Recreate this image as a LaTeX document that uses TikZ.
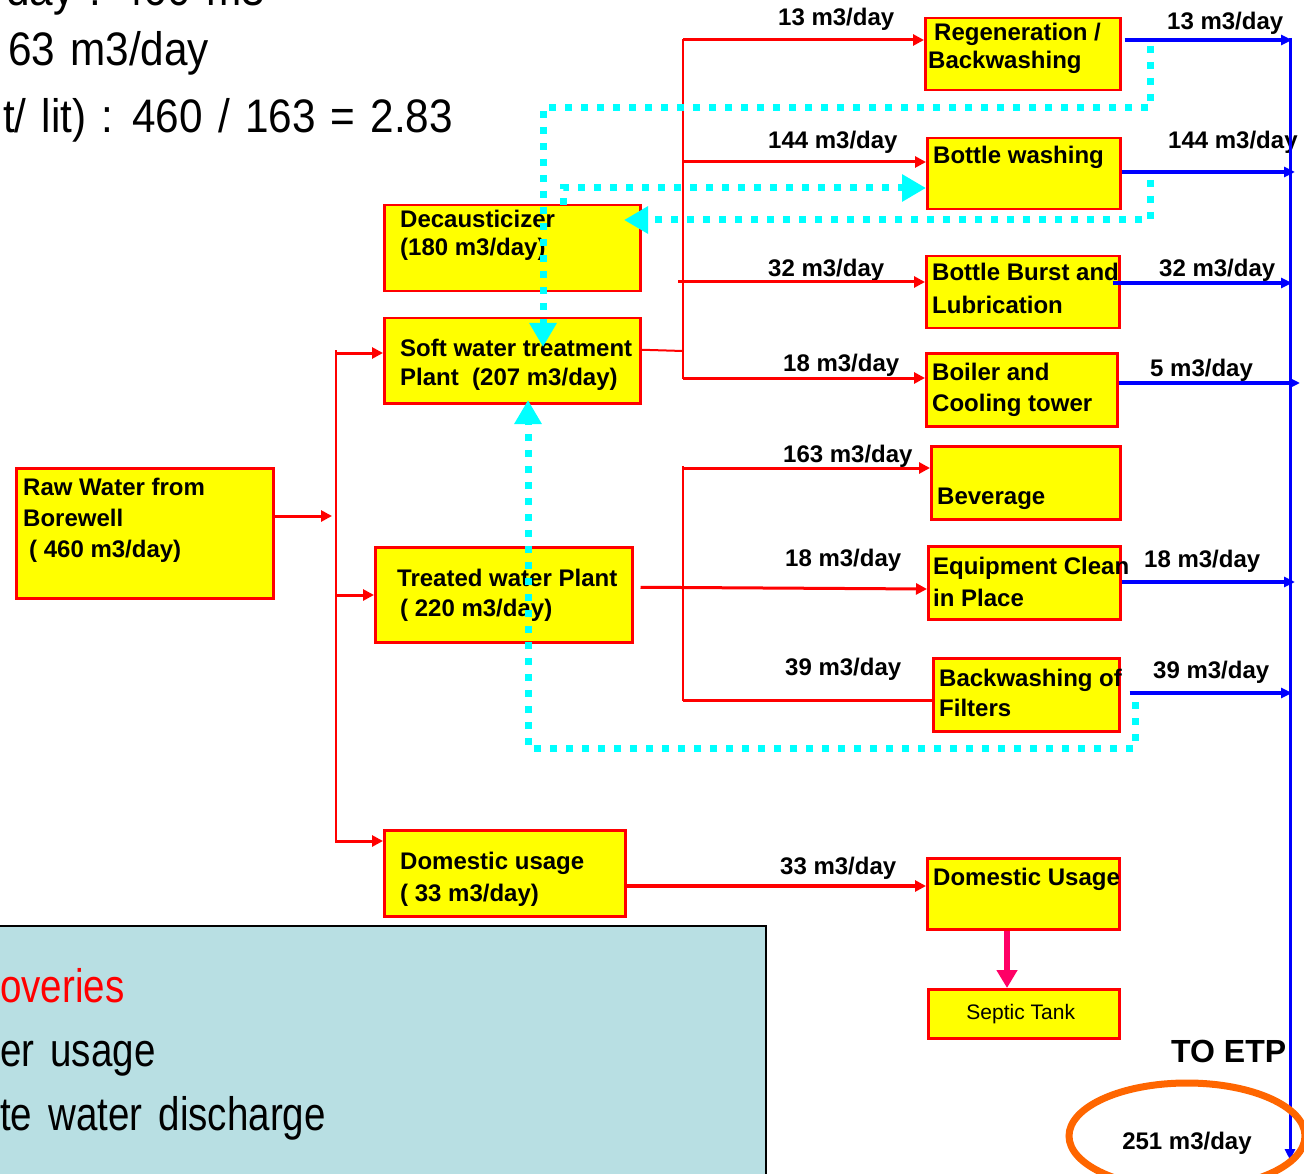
\documentclass[tikz,border=0pt]{standalone}
\usepackage{fontspec}
\setmainfont{Liberation Sans}
\newfontfamily\slidefont[FakeStretch=0.9, WordSpace=1.29]{Liberation Sans}
\newfontfamily\notefont[FakeStretch=0.82, WordSpace=1.5]{Liberation Sans}
\usetikzlibrary{arrows.meta,calc,shapes.geometric}
\definecolor{boxyellow}{HTML}{FFFF00}
\definecolor{flowred}{HTML}{FF0000}
\definecolor{flowblue}{HTML}{0000FF}
\definecolor{recycle}{HTML}{00FFFF}
\definecolor{septicred}{HTML}{FF0066}
\definecolor{etporange}{HTML}{FF6600}
\definecolor{notebg}{HTML}{B8DFE3}
\begin{document}
\begin{tikzpicture}[x=1pt,y=-1pt,
  unit/.style={draw=flowred, fill=boxyellow, line width=2.5pt, rectangle, inner sep=0pt, anchor=north west},
  btxt/.style={anchor=base west, inner sep=0pt, font=\fontsize{24}{28}\selectfont\bfseries},
  flow/.style={anchor=base west, inner sep=0pt, font=\fontsize{24}{28}\selectfont\bfseries},
  feed/.style={draw=flowred, line width=3pt, -{Triangle[length=11pt,width=11pt]}},
  bus/.style={draw=flowred, line width=2pt},
  drain/.style={draw=flowblue, line width=3.5pt, -{Triangle[length=11pt,width=10pt]}},
  reuse/.style={draw=recycle, line width=7pt, dash pattern=on 7pt off 9pt, -{Triangle[length=24pt,width=26pt]}},
  slide/.style={anchor=base west, inner sep=0pt, font=\slidefont\fontsize{47}{50}\selectfont},
  note/.style={anchor=base west, inner sep=0pt, font=\notefont\fontsize{47}{50}\selectfont},
]
\useasboundingbox (0,0) rectangle (1304,1174);
\clip (0,0) rectangle (1304,1174);

% ---- summary lines, upper left ----
\node[slide] (sumA) at (6,6) {day : 460 m3};
\node[slide] (sumB) at (8,66) {63 m3/day};
\node[slide] (sumC) at (3,133) {t/ lit) : 460 / 163 = 2.83};

% ---- process units ----
\node[unit, minimum width=195pt, minimum height=72pt] (regen) at (924,17) {};
\node[unit, minimum width=193pt, minimum height=71pt] (bw) at (926,137) {};
\node[unit, minimum width=256pt, minimum height=86pt] (deca) at (383,204) {};
\node[unit, minimum width=193pt, minimum height=72pt] (burst) at (925,255) {};
\node[unit, minimum width=256pt, minimum height=85pt] (soft) at (383,317) {};
\node[unit, minimum width=191pt, minimum height=73pt] (boiler) at (925,352) {};
\node[unit, minimum width=189pt, minimum height=73pt] (bev) at (930,445) {};
\node[unit, minimum width=257pt, minimum height=130pt] (raw) at (15,467) {};
\node[unit, minimum width=257pt, minimum height=95pt] (treat) at (374,546) {};
\node[unit, minimum width=192pt, minimum height=73pt] (cip) at (927,545) {};
\node[unit, minimum width=186pt, minimum height=73pt] (bwf) at (932,657) {};
\node[unit, minimum width=241pt, minimum height=86pt] (dom) at (383,829) {};
\node[unit, minimum width=192pt, minimum height=71pt] (domu) at (926,857) {};
\node[unit, minimum width=191pt, minimum height=49pt] (septic) at (927,988) {};

% ---- unit captions ----
\node[btxt] (regenA) at (934,41) {Regeneration /};
\node[btxt] (regenB) at (928,69) {Backwashing};
\node[btxt] (bwA) at (933,164) {Bottle washing};
\node[btxt] (decaA) at (400,228) {Decausticizer};
\node[btxt] (decaB) at (400,256) {(180 m3/day)};
\node[btxt] (burstA) at (932,281) {Bottle Burst and};
\node[btxt] (burstB) at (932,314) {Lubrication};
\node[btxt] (softA) at (400,356) {Soft water treatment};
\node[btxt] (softB) at (400,385) {Plant\ \ (207 m3/day)};
\node[btxt] (boilerA) at (932,380) {Boiler and};
\node[btxt] (boilerB) at (932,411) {Cooling tower};
\node[btxt] (bevA) at (937,504) {Beverage};
\node[btxt] (rawA) at (23,495) {Raw Water from};
\node[btxt] (rawB) at (23,526) {Borewell};
\node[btxt] (rawC) at (29,557) {( 460 m3/day)};
\node[btxt] (treatA) at (397,586) {Treated water Plant};
\node[btxt] (treatB) at (400,616) {( 220 m3/day)};
\node[btxt] (cipA) at (933,574) {Equipment Clean};
\node[btxt] (cipB) at (933,606) {in Place};
\node[btxt] (bwfA) at (939,686) {Backwashing of};
\node[btxt] (bwfB) at (939,716) {Filters};
\node[btxt] (domA) at (400,869) {Domestic usage};
\node[btxt] (domB) at (400,901) {( 33 m3/day)};
\node[btxt] (domuA) at (933,885) {Domestic Usage};
\node[inner sep=0pt, font=\fontsize{21}{24}\selectfont] (septicA) at ($(septic.center)+(-3,0)$) {Septic Tank};

% ---- flow rate labels ----
\node[flow] (fRegenIn) at (778,26) {13 m3/day};
\node[flow] (fRegenOut) at (1167,30) {13 m3/day};
\node[flow] (fBwIn) at (768,149) {144 m3/day};
\node[flow] (fBwOut) at (1168,149) {144 m3/day};
\node[flow] (fBurstIn) at (768,277) {32 m3/day};
\node[flow] (fBurstOut) at (1159,277) {32 m3/day};
\node[flow] (fBoilerIn) at (783,371) {18 m3/day};
\node[flow] (fBoilerOut) at (1150,377) {5 m3/day};
\node[flow] (fBevIn) at (783,462) {163 m3/day};
\node[flow] (fCipIn) at (785,566) {18 m3/day};
\node[flow] (fCipOut) at (1144,567) {18 m3/day};
\node[flow] (fBwfIn) at (785,675) {39 m3/day};
\node[flow] (fBwfOut) at (1153,678) {39 m3/day};
\node[flow] (fDom) at (780,874) {33 m3/day};

% ---- raw water distribution ----
\coordinate (rawIn) at (332,516);
\coordinate (busLtop) at (336,350);
\coordinate (busLbot) at (336,843);
\coordinate (toSoft) at (336,353);
\coordinate (toTreat) at (336,595);
\coordinate (toDom) at (336,841);
\draw[feed] (raw.east |- rawIn) -- (rawIn);
\draw[bus] (busLtop) -- (busLbot);
\draw[feed] (toSoft) -- (soft.west |- toSoft);
\draw[feed] (toTreat) -- (treat.west |- toTreat);
\draw[feed] (toDom) -- (dom.west |- toDom);

% ---- soft water header ----
\coordinate (busUtop) at (683,39);
\coordinate (busUbot) at (683,379);
\coordinate (softJoin) at (683,351);
\coordinate (toRegen) at (683,40);
\coordinate (toBw) at (683,162);
\coordinate (toBurst) at (678,282);
\coordinate (toBoiler) at (683,378);
\draw[bus] ($(soft.east)+(0,-11)$) -- (softJoin);
\draw[bus] (busUtop) -- (busUbot);
\draw[feed] (toRegen) -- (regen.west |- toRegen);
\draw[feed] (toBw) -- (bw.west |- toBw);
\draw[feed] (toBurst) -- (burst.west |- toBurst);
\draw[feed] (toBoiler) -- (boiler.west |- toBoiler);

% ---- treated water header ----
\coordinate (busTtop) at (683,466);
\coordinate (busTbot) at (683,701);
\coordinate (toBev) at (683,468);
\coordinate (toBwf) at (683,700);
\coordinate (cipIn) at (927,589);
\draw[bus] (busTtop) -- (busTbot);
\draw[feed] ($(treat.east)+(7,-7.5)$) -- (cipIn);
\draw[feed] (toBev) -- (bev.west |- toBev);
\draw[draw=flowred, line width=3pt] (toBwf) -- (bwf.west |- toBwf);

% ---- domestic line ----
\coordinate (domOut) at (624,886);
\draw[feed, line width=4.5pt] (domOut) -- (domu.west |- domOut);
\draw[draw=septicred, line width=6pt, -{Triangle[length=18pt,width=20pt]}]
  (domu.south -| 1007,0) -- (septic.north -| 1007,0);

% ---- effluent collector ----
\coordinate (etpTop) at (1290,38);
\coordinate (etpEnd) at (1290,1160);
\coordinate (dRegen) at (1292,40);
\coordinate (dBw) at (1295,172);
\coordinate (dBurst) at (1292,283);
\coordinate (dBoiler) at (1300,383);
\coordinate (dCip) at (1295,582);
\coordinate (dBwf) at (1292,693);
\draw[drain, line width=3pt] (etpTop) -- (etpEnd);
\draw[drain] ($(regen.east |- dRegen)+(3,0)$) -- (dRegen);
\draw[drain] (bw.east |- dBw) -- (dBw);
\draw[drain] ($(burst.east |- dBurst)+(-8,0)$) -- (dBurst);
\draw[drain] (boiler.east |- dBoiler) -- (dBoiler);
\draw[drain] (cip.east |- dCip) -- (dCip);
\draw[drain] ($(bwf.east |- dBwf)+(9,0)$) -- (dBwf);

% ---- recovered water loops ----
\coordinate (rRegen) at (1150,46);
\coordinate (rSoftTop) at (543,347);
\coordinate (rBw) at (1150,180);
\coordinate (rDeca) at (624,220);
\coordinate (rDecaTop) at (563,205);
\coordinate (rBwIn) at (926,188);
\coordinate (rBwf) at (1135,702);
\coordinate (rSoftBot) at (528,400);
\draw[reuse] (rRegen) -- ++(0,62) -| (rSoftTop);
\draw[reuse] (rBw) |- (rDeca);
\draw[reuse] (rDecaTop) |- (rBwIn);
\draw[reuse] (rBwf) -- ++(0,46) -| (rSoftBot);

% ---- discharge to effluent treatment ----
\node[anchor=base west, inner sep=0pt, font=\fontsize{32}{36}\selectfont\bfseries] (toEtp) at (1171,1062) {TO ETP};
\node[draw=etporange, line width=7pt, ellipse, minimum width=236pt, minimum height=106pt, inner sep=0pt] (etpRing) at (1187,1136) {};
\node[flow, anchor=base] (etpFlow) at (1187,1149) {251 m3/day};

% ---- notes panel ----
\node[draw=black, line width=2pt, fill=notebg, anchor=north east, minimum width=820pt, minimum height=320pt] (notes) at (767,925) {};
\node[note, text=flowred] (noteA) at (0,1002) {overies};
\node[note] (noteB) at (0,1066) {er usage};
\node[note] (noteC) at (0,1130) {te water discharge};
\end{tikzpicture}
\end{document}
